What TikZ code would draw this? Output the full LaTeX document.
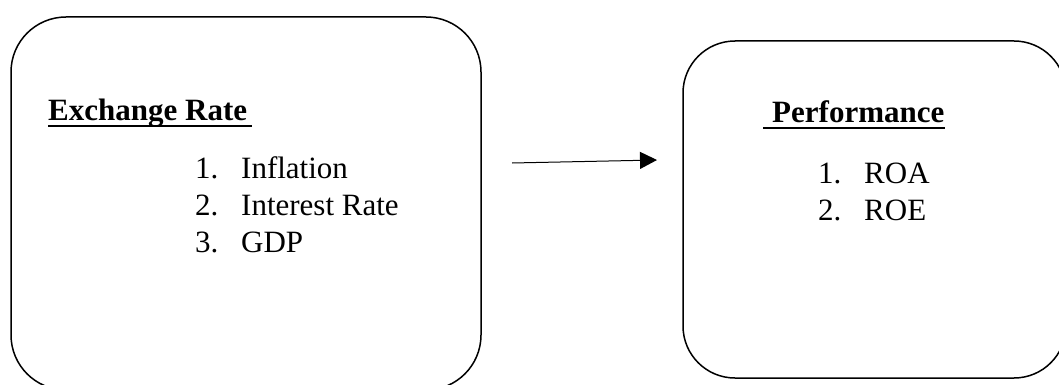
\documentclass[tikz,border=0pt]{standalone}
\usepackage{fontspec}
\setmainfont{Liberation Serif}
\usetikzlibrary{arrows.meta}

\tikzset{
	roundbox/.style={draw, line width=1.5pt, rounded corners=55pt, inner sep=0pt},
	itemtext/.style={anchor=base west, inner sep=0pt, font=\fontsize{31}{37}\selectfont},
	headtext/.style={itemtext, font=\fontsize{31}{37}\selectfont\bfseries},
	underl/.style={line width=2.5pt}
}

\begin{document}
\begin{tikzpicture}[x=1pt, y=-1pt]
			\clip (0,0) rectangle (1059,385);

			% left box
			\node[roundbox, minimum width=470pt, minimum height=373pt] (boxL) at (246,203.5) {};
			\node[headtext] (headL) at (48,121) {Exchange Rate};
			\draw[underl] ([yshift=-5pt]headL.base west) -- ([xshift=5pt, yshift=-5pt]headL.base east);
			\foreach \lbl [count=\i] in {Inflation, Interest Rate, GDP} {
				\node[itemtext] (numL\i) at (195,{141+37*\i}) {\i.};
				\node[itemtext] (itmL\i) at (241,{141+37*\i}) {\lbl};
			}

			% right box
			\node[roundbox, rounded corners=52pt, minimum width=383pt, minimum height=337pt] (boxR) at (874.5,209.5) {};
			\node[headtext] (headR) at (772,122) {Performance};
			\draw[underl] ([xshift=-9pt, yshift=-6pt]headR.base west) -- ([yshift=-6pt]headR.base east);
			\foreach \lbl [count=\i] in {ROA, ROE} {
				\node[itemtext] (numR\i) at (818,{146+37*\i}) {\i.};
				\node[itemtext] (itmR\i) at (864,{146+37*\i}) {\lbl};
			}

			% arrow
			\coordinate (arrA) at (512,163);
			\coordinate (arrB) at (657,160);
			\draw[line width=1pt, -{Triangle[length=17pt, width=17pt]}] (arrA) -- (arrB);
		\end{tikzpicture}
\end{document}
